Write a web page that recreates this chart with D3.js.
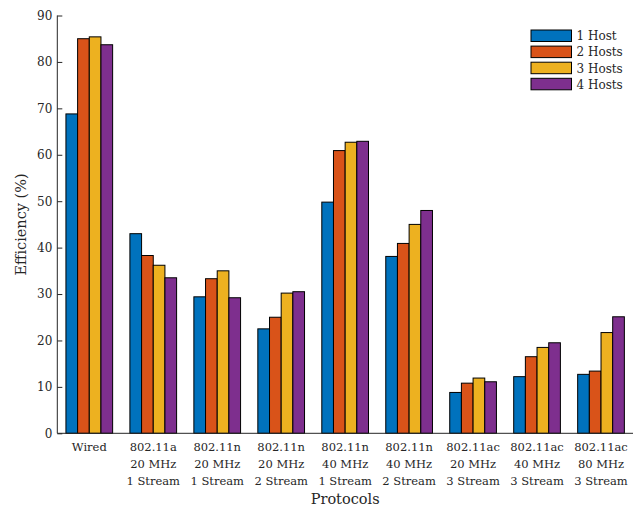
<!DOCTYPE html>
<html>
<head>
<meta charset="utf-8">
<script src="https://cdn.jsdelivr.net/npm/d3@7"></script>
<style>
  html, body { margin: 0; padding: 0; background: #fff; }
  svg text { font-family: "DejaVu Serif", "Liberation Serif", "Noto Serif", serif; fill: #262626; }
</style>
</head>
<body>
<svg id="chart" width="639" height="508"></svg>
<script>
// Protocol categories (multi-line tick labels)
const categories = [
  ["Wired"],
  ["802.11a", "20 MHz", "1 Stream"],
  ["802.11n", "20 MHz", "1 Stream"],
  ["802.11n", "20 MHz", "2 Stream"],
  ["802.11n", "40 MHz", "1 Stream"],
  ["802.11n", "40 MHz", "2 Stream"],
  ["802.11ac", "20 MHz", "3 Stream"],
  ["802.11ac", "40 MHz", "3 Stream"],
  ["802.11ac", "80 MHz", "3 Stream"]
];
const seriesNames = ["1 Host", "2 Hosts", "3 Hosts", "4 Hosts"];
const colors = ["#0072BD", "#D95319", "#EDB120", "#7E2F8E"];

// Efficiency (%) per protocol for each host count
const host1 = [68.8, 43.0, 29.4, 22.5, 49.8, 38.1, 8.8, 12.2, 12.7];
const host2 = [85.0, 38.3, 33.3, 25.0, 60.9, 40.9, 10.8, 16.5, 13.4];
const host3 = [85.4, 36.2, 35.0, 30.2, 62.7, 45.0, 11.9, 18.5, 21.7];
const host4 = [83.7, 33.5, 29.2, 30.5, 62.9, 48.0, 11.1, 19.5, 25.1];
const series = [host1, host2, host3, host4];

const yTicks = [0, 10, 20, 30, 40, 50, 60, 70, 80, 90];

const FONT = "'DejaVu Serif', 'Liberation Serif', 'Noto Serif', serif";
const svg = d3.select("#chart");
const plot = { left: 57.3, right: 633, top: 15.5, bottom: 433.3 };

const x = d3.scaleBand()
  .domain(d3.range(categories.length))
  .range([plot.left, plot.right])
  .paddingInner(0).paddingOuter(0);

const groupFrac = 0.73;
const xSub = d3.scaleBand()
  .domain(d3.range(series.length))
  .range([0, x.bandwidth() * groupFrac]);

const y = d3.scaleLinear().domain([0, 90]).range([plot.bottom, plot.top]);

const axisColor = "#262626";

// Bars
const groups = svg.append("g").selectAll("g")
  .data(categories.map((c, i) => i))
  .join("g")
  .attr("transform", i => `translate(${x(i) + x.bandwidth() * (1 - groupFrac) / 2},0)`);

groups.selectAll("rect")
  .data(i => series.map((s, k) => ({ k, v: s[i] })))
  .join("rect")
  .attr("x", d => xSub(d.k))
  .attr("width", xSub.bandwidth())
  .attr("y", d => y(d.v))
  .attr("height", d => y(0) - y(d.v))
  .attr("fill", d => colors[d.k])
  .attr("stroke", "#000")
  .attr("stroke-width", 1);

// Y axis (ticks point inward)
const yAxis = d3.axisLeft(y).tickValues(yTicks).tickSize(-5).tickPadding(5).tickFormat(d3.format("d"));
const yg = svg.append("g").attr("transform", `translate(${plot.left},0)`).call(yAxis)
  .attr("font-family", FONT);
yg.select(".domain").attr("stroke", axisColor).attr("d", `M0,${plot.top}V${plot.bottom}`);
yg.selectAll(".tick line").attr("stroke", axisColor);
yg.selectAll(".tick text").attr("font-size", 12).attr("fill", axisColor);

// X axis baseline
const xAxis = d3.axisBottom(x).tickSize(0).tickFormat("");
const xg = svg.append("g").attr("transform", `translate(0,${plot.bottom})`).call(xAxis);
xg.select(".domain").attr("stroke", axisColor).attr("d", `M${plot.left},0H${plot.right}`);

// Multi-line category labels
const lab = svg.append("g").attr("font-family", FONT).selectAll("text")
  .data(categories.map((c, i) => ({ c, i })))
  .join("text")
  .attr("text-anchor", "middle")
  .attr("font-size", 11.5)
  .attr("x", d => x(d.i) + x.bandwidth() / 2)
  .attr("y", 451);
lab.selectAll("tspan")
  .data(d => d.c.map(line => ({ line, cx: x(d.i) + x.bandwidth() / 2 })))
  .join("tspan")
  .attr("x", d => d.cx)
  .attr("dy", (d, j) => j === 0 ? 0 : 17)
  .text(d => d.line);

// Axis titles
svg.append("text")
  .attr("x", (plot.left + plot.right) / 2)
  .attr("y", 504)
  .attr("text-anchor", "middle")
  .attr("font-size", 14.5)
  .attr("font-family", FONT)
  .text("Protocols");

svg.append("text")
  .attr("transform", `translate(25.5,${(plot.top + plot.bottom) / 2}) rotate(-90)`)
  .attr("text-anchor", "middle")
  .attr("font-size", 14.5)
  .attr("font-family", FONT)
  .text("Efficiency (%)");

// Legend
const legend = svg.append("g").attr("transform", "translate(531,30)").attr("font-family", FONT);
const items = legend.selectAll("g").data(seriesNames).join("g")
  .attr("transform", (d, i) => `translate(0,${i * 16.1})`);
items.append("rect")
  .attr("width", 40.5).attr("height", 11.5)
  .attr("fill", (d, i) => colors[i])
  .attr("stroke", "#000").attr("stroke-width", 1);
items.append("text")
  .attr("x", 45.5).attr("y", 10.3)
  .attr("font-size", 12)
  .text(d => d);
</script>
</body>
</html>
